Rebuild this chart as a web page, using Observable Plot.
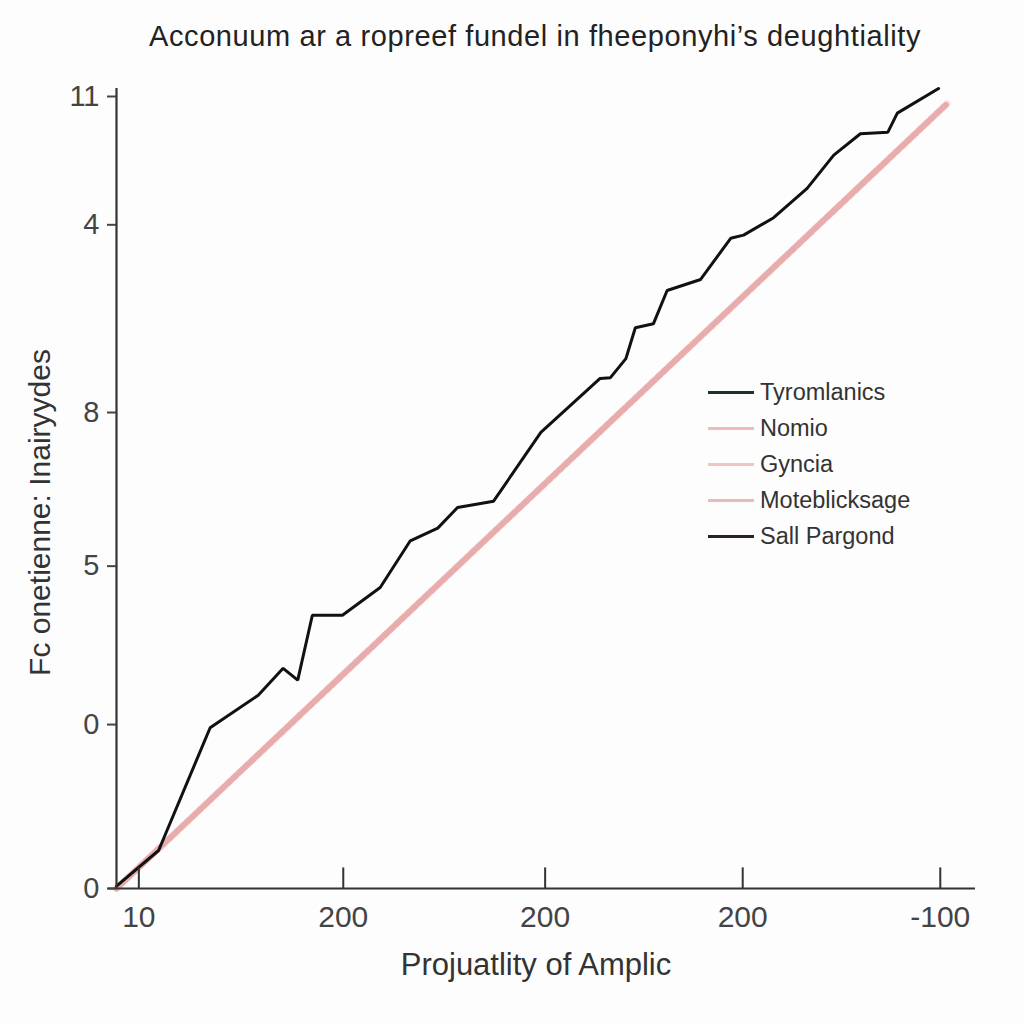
<!DOCTYPE html>
<html>
<head>
<meta charset="utf-8">
<script src="https://cdn.jsdelivr.net/npm/d3@7"></script>
<script src="https://cdn.jsdelivr.net/npm/@observablehq/plot@0.6"></script>
<style>
  html, body { margin: 0; padding: 0; background: #fdfdfd; }
  #wrap { position: relative; width: 1024px; height: 1024px; overflow: hidden; background: #fdfdfd; font-family: "Liberation Sans", Arial, sans-serif; }
  #title { height: 70px; line-height: 72px; text-align: center; padding-left: 46px; font-size: 29px; color: #222; letter-spacing: 0.6px; }
  #legend { position: absolute; left: 706px; top: 376px; font-size: 23.5px; color: #333; }
  .item { position: relative; height: 36px; line-height: 32px; padding-left: 54px; white-space: nowrap; }
  .sw { position: absolute; left: 2px; top: 15px; width: 46px; height: 3px; }
  svg { display: block; }
</style>
</head>
<body>
<div id="wrap">
  <div id="title">Acconuum ar a ropreef fundel in fheeponyhi’s deughtiality</div>
  <div id="chart"></div>
  <div id="legend"></div>
</div>
<script>
// Black series (x in axis units 0..100, y in axis units 0..100)
const blackX = [0, 4.9, 10.9, 16.5, 19.4, 21.1, 22.8, 26.3, 30.7, 34.2, 37.4, 39.7, 43.9, 49.4, 56.3, 57.5, 59.3, 60.4, 62.5, 64.1, 68.0, 71.5, 73.0, 76.5, 80.4, 83.5, 86.6, 89.8, 90.9, 95.7];
const blackY = [0.3, 4.8, 20.3, 24.4, 27.8, 26.3, 34.5, 34.5, 38.0, 43.9, 45.5, 48.1, 48.9, 57.6, 64.4, 64.5, 66.9, 70.8, 71.3, 75.5, 76.9, 82.1, 82.5, 84.7, 88.4, 92.6, 95.3, 95.5, 97.9, 101.0];
// Pink (reference) series
const pinkX = [0, 96.7];
const pinkY = [0, 99.1];

// Axis ticks
const xTicks = [2.6, 26.4, 49.9, 72.9, 95.9];
const xTickLabels = ["10", "200", "200", "200", "-100"];
const yTicks = [0, 20.7, 40.7, 60.1, 83.8, 100];
const yTickLabels = ["0", "0", "5", "8", "4", "11"];

// Legend
const legendNames = ["Tyromlanics", "Nomio", "Gyncia", "Moteblicksage", "Sall Pargond"];
const legendColors = ["#1f3329", "#f0bcb8", "#efc6c2", "#e9bcbc", "#2a1f2b"];

const black = blackX.map((x, i) => ({x, y: blackY[i]}));
const pink = pinkX.map((x, i) => ({x, y: pinkY[i]}));

const chart = Plot.plot({
  width: 1024,
  height: 954,
  marginLeft: 116,
  marginRight: 49,
  marginTop: 26,
  marginBottom: 136,
  style: {background: "#fdfdfd", fontFamily: "Liberation Sans, Arial, sans-serif", overflow: "visible"},
  x: {domain: [0, 100], axis: null},
  y: {domain: [0, 100], axis: null},
  marks: [
    Plot.line(pink, {x: "x", y: "y", stroke: "#f8e4e4", strokeWidth: 7, clip: false}),
    Plot.line(pink, {x: "x", y: "y", stroke: "#e9acac", strokeWidth: 6, strokeDasharray: "5,3", clip: false}),
    Plot.line(black, {x: "x", y: "y", stroke: "#111", strokeWidth: 3, strokeLinejoin: "miter", clip: false}),
    Plot.ruleX([0], {stroke: "#333", strokeWidth: 2.2, insetTop: -8}),
    Plot.ruleY([0], {stroke: "#333", strokeWidth: 2.2, insetLeft: -8}),
    Plot.ruleX(xTicks, {y1: 0, y2: 2.6, stroke: "#333", strokeWidth: 2}),
    Plot.axisX({ticks: xTicks, tickFormat: (d, i) => xTickLabels[i], tickSize: 0, tickPadding: 17, fontSize: 30, color: "#444",
      label: "Projuatlity of Amplic", labelAnchor: "center", labelArrow: "none", labelOffset: 86}),
    Plot.axisY({ticks: yTicks, tickFormat: (d, i) => yTickLabels[i], tickSize: 9, tickPadding: 8, fontSize: 29, color: "#444", strokeWidth: 2,
      label: "Fc onetienne: Inairyydes", labelAnchor: "center", labelArrow: "none", labelOffset: 88})
  ]
});
document.getElementById("chart").appendChild(chart);

// style the axis labels
chart.querySelectorAll("g[aria-label='x-axis label'] text").forEach(t => {
  t.setAttribute("font-size", "31");
  t.style.fontSize = "31px";
  t.setAttribute("fill", "#333");
  t.setAttribute("dx", "-10");
});
chart.querySelectorAll("g[aria-label='y-axis label'] text").forEach(t => {
  t.setAttribute("font-size", "30");
  t.style.fontSize = "30px";
  t.setAttribute("fill", "#333");
  t.setAttribute("dx", "-20");
});

const lg = document.getElementById("legend");
legendNames.forEach((n, i) => {
  const d = document.createElement("div");
  d.className = "item";
  const s = document.createElement("span");
  s.className = "sw";
  s.style.background = legendColors[i];
  d.appendChild(s);
  d.appendChild(document.createTextNode(n));
  lg.appendChild(d);
});
</script>
</body>
</html>
